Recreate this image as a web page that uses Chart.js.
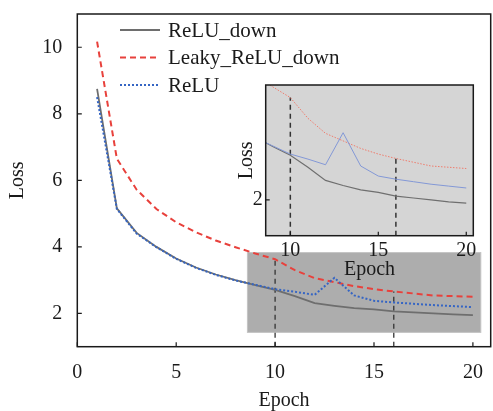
<!DOCTYPE html>
<html>
<head>
<meta charset="utf-8">
<script src="https://cdn.jsdelivr.net/npm/chart.js@4.4.1/dist/chart.umd.min.js"></script>
<style>
    html, body { margin: 0; padding: 0; background: #fff; }
    #wrap { position: relative; width: 493px; height: 411px; }
    #wrap canvas { position: absolute; left: 0; top: 0; }
</style>
</head>
<body>
<div id="wrap">
    <canvas id="mainChart" width="493" height="411"></canvas>
    <canvas id="insetChart" width="493" height="411"></canvas>
</div>
<script>
// данные
const epochs = [1, 2, 3, 4, 5, 6, 7, 8, 9, 10, 11, 12, 13, 14, 15, 16, 17, 18, 19, 20];
const reluDown = [8.75, 5.16, 4.42, 4.00, 3.65, 3.38, 3.17, 3.00, 2.85, 2.71, 2.52, 2.31, 2.23, 2.16, 2.12, 2.06, 2.03, 2.00, 1.97, 1.95];
const leakyReluDown = [10.17, 6.65, 5.72, 5.14, 4.74, 4.44, 4.19, 3.99, 3.80, 3.63, 3.30, 3.06, 2.94, 2.82, 2.73, 2.66, 2.60, 2.54, 2.52, 2.50];
const relu = [8.50, 5.14, 4.40, 3.99, 3.64, 3.37, 3.16, 2.99, 2.86, 2.73, 2.65, 2.56, 3.07, 2.54, 2.38, 2.33, 2.29, 2.25, 2.22, 2.19];
const seriesNames = ['ReLU_down', 'Leaky_ReLU_down', 'ReLU'];

const xTicks = [0, 5, 10, 15, 20];
const yTicks = [2, 4, 6, 8, 10];
const insetXTicks = [10, 15, 20];
const insetYTicks = [2];

const markerEpochs = [10, 16];
const zoomEpochRange = [8.6, 20.4];
const zoomLossRange = [1.43, 3.83];

const FONT = "'Liberation Serif', 'DejaVu Serif', serif";
const TEXT = '#1a1a1a';

Chart.defaults.font.family = FONT;
Chart.defaults.color = TEXT;

function points(values) {
    return epochs.map((e, i) => ({ x: e, y: values[i] }));
}

function markerSets(bottom, width) {
    return markerEpochs.map(e => ({
        label: 'marker',
        data: [{ x: e, y: bottom }, { x: e, y: leakyReluDown[epochs.indexOf(e)] }],
        borderColor: '#333',
        borderWidth: width,
        borderDash: [5, 4],
        pointRadius: 0,
        order: 5
    }));
}

// рамка, тики внутрь, фон области и серый прямоугольник
const framePlugin = {
    id: 'frameTicks',
    beforeDatasetsDraw(chart, args, opts) {
        const { ctx, chartArea: a, scales: { x, y } } = chart;
        ctx.save();
        if (opts.background) {
            ctx.fillStyle = opts.background;
            ctx.fillRect(a.left, a.top, a.right - a.left, a.bottom - a.top);
        }
        if (opts.zoomBox) {
            const x0 = x.getPixelForValue(zoomEpochRange[0]);
            const x1 = x.getPixelForValue(zoomEpochRange[1]);
            const y0 = y.getPixelForValue(zoomLossRange[1]);
            const y1 = y.getPixelForValue(zoomLossRange[0]);
            ctx.fillStyle = '#adadad';
            ctx.fillRect(x0, y0, x1 - x0, y1 - y0);
            ctx.strokeStyle = '#c4c4c4';
            ctx.lineWidth = 1;
            ctx.strokeRect(x0, y0, x1 - x0, y1 - y0);
        }
        ctx.restore();
    },
    afterDatasetsDraw(chart, args, opts) {
        const { ctx, chartArea: a, scales: { x, y } } = chart;
        const len = opts.tickLength || 4;
        ctx.save();
        ctx.strokeStyle = '#1a1a1a';
        ctx.lineWidth = 1.5;
        ctx.strokeRect(a.left, a.top, a.right - a.left, a.bottom - a.top);
        ctx.lineWidth = 1.2;
        ctx.beginPath();
        x.ticks.forEach(t => {
            const px = x.getPixelForValue(t.value);
            ctx.moveTo(px, a.bottom);
            ctx.lineTo(px, a.bottom - len);
        });
        y.ticks.forEach(t => {
            const py = y.getPixelForValue(t.value);
            ctx.moveTo(a.left, py);
            ctx.lineTo(a.left + len, py);
        });
        ctx.stroke();
        ctx.restore();
    }
};

// легенда в левом верхнем углу
const legendPlugin = {
    id: 'cornerLegend',
    afterDraw(chart) {
        const ctx = chart.ctx;
        const rows = [30, 57.5, 85];
        ctx.save();
        seriesNames.forEach((name, i) => {
            const ds = chart.data.datasets.find(d => d.label === name);
            ctx.strokeStyle = ds.borderColor;
            ctx.lineWidth = ds.borderWidth;
            ctx.setLineDash(ds.borderDash || []);
            ctx.beginPath();
            ctx.moveTo(120, rows[i]);
            ctx.lineTo(160, rows[i]);
            ctx.stroke();
            ctx.setLineDash([]);
            ctx.fillStyle = TEXT;
            ctx.font = '21px ' + FONT;
            ctx.textBaseline = 'middle';
            ctx.fillText(name, 168, rows[i] + 1);
        });
        ctx.restore();
    }
};

function axis(min, max, ticks, title, opts) {
    return {
        type: 'linear',
        min: min,
        max: max,
        afterBuildTicks: scale => { scale.ticks = ticks.map(v => ({ value: v })); },
        afterFit: scale => {
            opts.fit(scale);
            // без лишних отступов от подписей, область задаётся layout.padding
            scale.paddingTop = 0;
            scale.paddingBottom = 0;
            scale.paddingLeft = 0;
            scale.paddingRight = 0;
        },
        grid: { display: false, drawTicks: false },
        border: { display: false },
        ticks: { font: { size: 20 }, color: TEXT, padding: opts.pad },
        title: {
            display: true,
            text: title,
            font: { size: 20, lineHeight: 1 },
            color: TEXT,
            padding: opts.titlePad
        }
    };
}

function initMainChart() {
    new Chart(document.getElementById('mainChart'), {
        type: 'line',
        data: {
            datasets: [
                { label: 'ReLU', data: points(relu), borderColor: '#3565c4', borderWidth: 2, borderDash: [2, 2], pointRadius: 0, order: 0 },
                { label: 'Leaky_ReLU_down', data: points(leakyReluDown), borderColor: '#e8413c', borderWidth: 2, borderDash: [6, 4], pointRadius: 0, order: 1 },
                { label: 'ReLU_down', data: points(reluDown), borderColor: '#6e6e6e', borderWidth: 1.8, pointRadius: 0, order: 2 }
            ].concat(markerSets(1, 1.3))
        },
        options: {
            responsive: false,
            devicePixelRatio: 1,
            animation: false,
            layout: { padding: { top: 14, right: 2.3, left: 0, bottom: 0 } },
            plugins: { legend: { display: false }, tooltip: { enabled: false }, frameTicks: { tickLength: 4.5, zoomBox: true } },
            scales: {
                x: axis(0, 20.9, xTicks, 'Epoch', { pad: 14, titlePad: { top: 0, bottom: 0 }, fit: s => { s.height = 64.3; } }),
                y: axis(1, 11, yTicks, 'Loss', { pad: 15, titlePad: { top: 8, bottom: 0 }, fit: s => { s.width = 77.3; } })
            }
        },
        plugins: [framePlugin, legendPlugin]
    });
}

function initInsetChart() {
    new Chart(document.getElementById('insetChart'), {
        type: 'line',
        data: {
            datasets: [
                { label: 'ReLU', data: points(relu), borderColor: '#8398d6', borderWidth: 1, pointRadius: 0, order: 0 },
                { label: 'Leaky_ReLU_down', data: points(leakyReluDown), borderColor: '#ee7d6e', borderWidth: 1, borderDash: [1.5, 1.5], pointRadius: 0, order: 1 },
                { label: 'ReLU_down', data: points(reluDown), borderColor: '#6f6f6f', borderWidth: 1.2, pointRadius: 0, order: 2 }
            ].concat(markerSets(zoomLossRange[0], 1.5))
        },
        options: {
            responsive: false,
            devicePixelRatio: 1,
            animation: false,
            layout: { padding: { top: 85, right: 19.7, left: 230, bottom: 131 } },
            plugins: { legend: { display: false }, tooltip: { enabled: false }, frameTicks: { tickLength: 4, background: '#d5d5d5' } },
            scales: {
                x: axis(zoomEpochRange[0], zoomEpochRange[1], insetXTicks, 'Epoch', { pad: 3, titlePad: { top: 0, bottom: 0 }, fit: s => { s.height = 44.3; } }),
                y: axis(zoomLossRange[0], zoomLossRange[1], insetYTicks, 'Loss', { pad: 3, titlePad: { top: 7, bottom: 0 }, fit: s => { s.width = 35.7; } })
            }
        },
        plugins: [framePlugin]
    });
}

document.addEventListener('DOMContentLoaded', function() {
    initMainChart();
    initInsetChart();
});
</script>
</body>
</html>
